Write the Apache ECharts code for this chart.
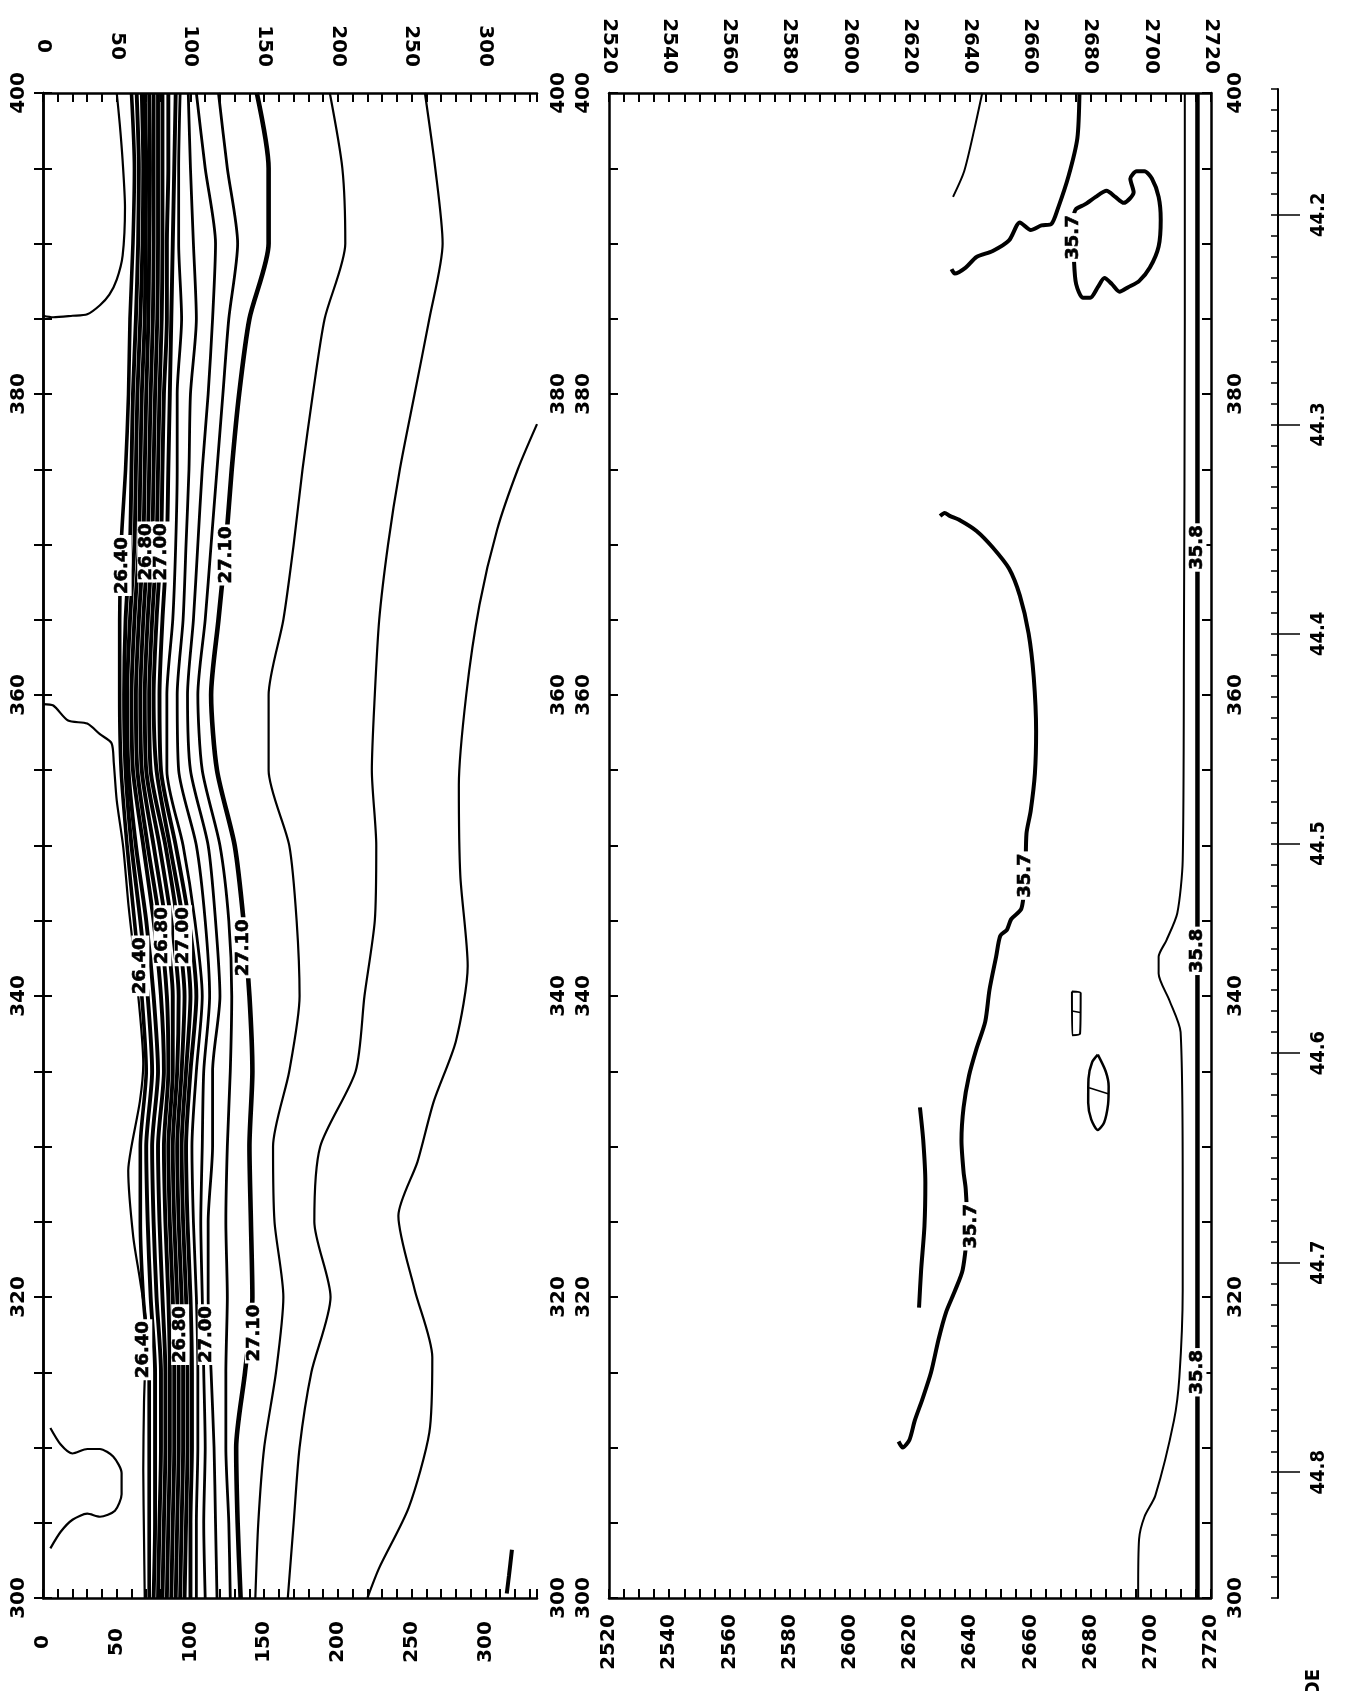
<!DOCTYPE html>
<html>
<head>
<meta charset="utf-8">
<title>Density and salinity sections</title>
<script src="https://cdn.jsdelivr.net/npm/echarts@6/dist/echarts.min.js"></script>
<style>
  html, body { margin: 0; padding: 0; background: #fff; }
  #chart { width: 1346px; height: 1691px; }
</style>
</head>
<body>
<div id="chart"></div>
<script>
// Along-track distance levels at which the isolines are sampled
const DIST = [400,395,390,385,380,375,370,365,360,355,350,345,340,335,330,325,320,315,310,305,300];

// Upper section: depth (m) of each isopycnal of the pycnocline band at every DIST level
const BAND = [
  [60,62,61,59,58,56,53,52,52,53,57,62,67,70,66,66,68,72,72,72,72],
  [63.5,65,64.5,63,61,60,59,56,55,56,60,66,71,74,70,71,73,76,76,76,75],
  [67,68,67.5,66,64,63,62,59,57,58,63,70,75,78,74,75,77,80,80,79,78],
  [69,70,69.5,69,67,66,65,62,60,61,68,75,80,82,78,79,81,83,83,82,81],
  [72,72.5,72,71.5,70,69,68,65,63,64,71,79,84,85,82,83,85,86,86,85,84],
  [75,75,75,74.5,73,72,71,68,66,67,75,83,88,88,85,86,88,89,89,88,87],
  [78,78,78,77.5,76,75,74,71,69,70,79,87,92,91,88,89,91,92,92,91,90],
  [81,81,81,80.5,79,78,77,74,72,73,83,91,96,94,91,92,94,95,95,94,93],
  [85,85,84,84,82,81,80,77,75,77,86,95,100,97,94,95,97,98,98,97,96],
  [90,89,88,87,86,85,84,81,79,80,90,99,104,100,97,98,100,101,101,100,100],
  [93,92,92,94,91,91,90,88,84,84,95,103,108,104,101,102,104,105,105,104,104],
  [98.5,100,102,104,100,99,97,95,91,92,104,110,113,109,108,107,108,109,110,109,110],
  [104,110,117,115,112,108,105,102,98,100,112,117,120,115,115,112,112,114,116,117,118],
  [119,125,132,126,122,118,114,110,105,108,120,126,128,127,125,124,125,124,124,126,127]
];
// 27.10 isopycnal (heavy line)
const ISO_2710 = [145,153,153,140,133,128,124,119,114,118,130,136,140,142,140,141,142,137,131,132,134];
// deeper isopycnals
const ISO_E = [194.5,203,205,191,183,176,170,163,153,153,167,172,174,167,156,157,163,158,150,146,144];
const ISO_F = [259,266,271,262,252,242,234,228,225,223,226,225,218,212,188,184,195,182,174,170,166];
// isolines that do not span the whole section: [depth, distance]
const ISO_H = [[335,378],[322,375],[308,371],[296,366],[287,360],[282,354],[283,348],[288,342],[280,337],[265,333],[254,329],[241,325.4],[252,320.5],[264,316],[262,311],[248,306],[228,302],[220,300]];
const OUTCROP_N = [[0,385.2],[7,385.1],[20,385.2],[30,385.3],[38.6,385.9],[45,386.6],[50,387.6],[54,389.2],[55.6,392.4],[54,395.5],[52,398],[50,400]];
const OUTCROP_S = [[0,359.4],[7,359.3],[17,358.3],[30,358.1],[38.6,357.4],[46.5,356.8],[48,355.5],[50,353],[54.4,349.9],[58,346],[63.5,341.1],[68,335.5],[65.7,333],[60,330],[57.8,328.4],[61.2,324],[66,321],[70,318],[68.5,313],[68,308.5],[68.5,304],[69,300]];
const LENS_W = [[5,311.3],[12,310.2],[20,309.6],[30,309.9],[38.6,309.9],[47.6,309.4],[53.3,308.3],[53.3,306.9],[48.8,305.8],[38.6,305.4],[30,305.6],[20,305.2],[12,304.4],[5,303.3]];
const TICK_MARK = [[314.5,300.3],[316,301.5],[318,303.2]];
// labels of the upper section: [depth, distance, value]
const LABELS_SIGMA = [
  [54,368.6,'26.40'],[70,369.5,'26.80'],[80.5,369.5,'27.00'],[124.5,369.3,'27.10'],
  [66,342,'26.40'],[81,344,'26.80'],[95,344,'27.00'],[136,343.2,'27.10'],
  [68,316.5,'26.40'],[93,317.5,'26.80'],[111,317.5,'27.00'],[143,317.6,'27.10']
];

// Lower section (salinity): [depth, distance]
const SAL_THIN_TOP = [[2644,400],[2641.5,397.7],[2638,394.8],[2634.3,393.1]];
const SAL_357_TOP = [[2676.3,400],[2675.6,397],[2672.7,394.5],[2669.1,392.3],[2667,391.3],[2663.7,391.2],[2660.1,390.9],[2656.5,391.4],[2652.9,390.2],[2647.5,389.5],[2642.1,389.1],[2638.5,388.4],[2634.9,388.0],[2633.8,388.3]];
const SAL_357_LOOP = [[2674.5,388.8],[2675.2,387.3],[2677.4,386.4],[2679.9,386.4],[2682.4,387.1],[2684.6,387.7],[2687.1,387.3],[2689.6,386.8],[2692.5,387.1],[2696.1,387.5],[2699.7,388.4],[2702.6,389.8],[2703.3,391.6],[2702.6,393.1],[2700.4,394.3],[2697.9,394.8],[2695.3,394.8],[2693.2,394.3],[2694.3,393.4],[2691.0,392.7],[2688.2,393.1],[2685.3,393.5],[2681.7,393.1],[2678.1,392.6],[2675.2,392.3],[2674.5,392.0]];
const SAL_357_MAIN = [[2630.0,371.9],[2631.5,372.1],[2633.2,371.9],[2636.7,371.6],[2642.1,370.9],[2647.5,369.8],[2652.9,368.4],[2656.5,366.6],[2659.4,364.1],[2661.1,361.2],[2661.9,357.6],[2661.5,354.8],[2660.1,352.3],[2658.7,350.8],[2658.3,348],[2657,345.8],[2653.6,345.1],[2652.2,344.4],[2650.0,344.0],[2648.6,342.6],[2646.4,340.4],[2645.0,338.3],[2642.1,336.5],[2639.6,334.7],[2637.8,332.6],[2637.1,330.4],[2637.8,328.3],[2638.5,327.2],[2639,324.7],[2637.5,321.8],[2634.9,320.4],[2632.0,319.0],[2629.5,317.2],[2627.0,315.0],[2624.1,313.2],[2621.6,311.8],[2619.8,310.5],[2617.6,310.0],[2616.2,310.4]];
const SAL_357_SHORT = [[2623.3,332.6],[2624.4,330.4],[2625.1,327.6],[2624.8,324.7],[2623.7,321.8],[2623.0,319.3]];
const SAL_BOX = [[2673.8,340.3],[2676.7,340.2],[2676.5,337.5],[2673.9,337.4],[2673.8,340.3]];
const SAL_BOX_MID = [[2673.8,339.0],[2676.6,338.9]];
const SAL_LENS = [[2682.4,336.1],[2685,335],[2686.0,334.0],[2685.8,332.8],[2684.5,331.6],[2682.4,331.1],[2680.2,331.8],[2679.2,332.9],[2679.3,334.5],[2680.5,335.6],[2682.4,336.1]];
const SAL_LENS_MID = [[2679.5,333.9],[2685.8,333.5]];
const SAL_EDGE_THIN = [[2711.3,400],[2711.3,384.8],[2711.0,363.3],[2710.6,349.0],[2708.8,345.5],[2705.2,343.7],[2702.6,342.6],[2702.6,341.5],[2706.2,339.7],[2709.9,337.6],[2710.6,327.6],[2710.6,320.4],[2709.5,314.7],[2707.7,311.8],[2701.5,306.8],[2697.9,305.4],[2696.1,303.9],[2695.8,300.4],[2695.8,300]];
const SAL_358 = [[2715.5,400],[2715.5,300]];
const LABELS_SAL = [
  [2674.2,390.4,'35.7'],[2658.3,348,'35.7'],[2640.3,324.7,'35.7'],
  [2715.5,369.8,'35.8'],[2715.5,343,'35.8'],[2715.5,315,'35.8']
];

// Axis tick labels
const DIST_TICKS = [300,320,340,360,380,400];
const DEPTH_TICKS_UPPER = [0,50,100,150,200,250,300];
const DEPTH_TICKS_LOWER = [2520,2540,2560,2580,2600,2620,2640,2660,2680,2700,2720];
const LAT_TICKS = [44.2,44.3,44.4,44.5,44.6,44.7,44.8];

const pairs = depths => depths.map((d, i) => [d, DIST[i]]);

const tickFont = { fontFamily: 'DejaVu Sans', fontWeight: 'bold', fontSize: 20, color: '#000' };
const frameLine = { show: true, lineStyle: { color: '#000', width: 2.5 } };
const innerTick = { show: true, inside: true, length: 9, lineStyle: { color: '#000', width: 2 } };
const plain = v => String(v);

function depthAxis(grid, position, min, max, interval, ticks, margin) {
  return {
    type: 'value', gridIndex: grid, position, min, max, interval,
    axisLine: frameLine, axisTick: innerTick, splitLine: { show: false },
    axisLabel: Object.assign({ customValues: ticks, rotate: 90, margin, formatter: plain,
      align: 'center', verticalAlign: 'middle' }, tickFont)
  };
}
function distAxis(grid, position, margin) {
  return {
    type: 'value', gridIndex: grid, position, min: 300, max: 400, interval: 5,
    axisLine: frameLine, axisTick: innerTick, splitLine: { show: false },
    axisLabel: Object.assign({ customValues: DIST_TICKS, rotate: 90, margin, formatter: plain,
      align: 'center', verticalAlign: position === 'left' ? 'bottom' : 'top' }, tickFont)
  };
}

function iso(data, width, xi, yi) {
  return {
    type: 'line', data, xAxisIndex: xi, yAxisIndex: yi, showSymbol: false, symbol: 'none',
    smooth: 0.25, lineStyle: { color: '#000', width }, z: 2, silent: true
  };
}
function labelSeries(data, xi, yi, size) {
  return {
    type: 'scatter', data, xAxisIndex: xi, yAxisIndex: yi, symbol: 'rect', symbolSize: 2,
    itemStyle: { color: 'rgba(0,0,0,0)' }, z: 5, silent: true,
    label: {
      show: true, position: 'inside', rotate: 90, formatter: p => p.value[2],
      fontFamily: 'DejaVu Sans', fontWeight: 'bold', fontSize: size, color: '#000',
      opacity: 1, textBorderColor: '#000', textBorderWidth: 0.6,
      backgroundColor: '#fff', padding: [0, 2]
    },
    labelLayout: { hideOverlap: false }
  };
}

const series = [];
BAND.forEach((line, i) => {
  const w = i === 0 ? 3.6 : (i <= 9 ? 3.9 : 2.8);
  series.push(iso(pairs(line), w, 0, 0));
});
series.push(iso(pairs(ISO_2710), 4.6, 0, 0));
series.push(iso(pairs(ISO_E), 2.2, 0, 0));
series.push(iso(pairs(ISO_F), 2.2, 0, 0));
series.push(iso(ISO_H, 2.2, 0, 0));
series.push(iso(OUTCROP_N, 2.2, 0, 0));
series.push(iso(OUTCROP_S, 2.2, 0, 0));
series.push(iso(LENS_W, 2.2, 0, 0));
series.push(iso(TICK_MARK, 4, 0, 0));
series.push(labelSeries(LABELS_SIGMA, 0, 0, 18));

series.push(iso(SAL_THIN_TOP, 2, 2, 2));
series.push(iso(SAL_357_TOP, 4, 2, 2));
series.push(iso(SAL_357_LOOP, 4, 2, 2));
series.push(iso(SAL_357_MAIN, 4, 2, 2));
series.push(iso(SAL_357_SHORT, 4, 2, 2));
series.push(iso(SAL_BOX, 2, 2, 2));
series.push(iso(SAL_BOX_MID, 1.5, 2, 2));
series.push(iso(SAL_LENS, 2.5, 2, 2));
series.push(iso(SAL_LENS_MID, 1.5, 2, 2));
series.push(iso(SAL_EDGE_THIN, 2, 2, 2));
series.push(iso(SAL_358, 4.5, 2, 2));
series.push(labelSeries(LABELS_SAL, 2, 2, 18));
// keeps the latitude scale's grid populated
series.push({ type: 'scatter', data: [], xAxisIndex: 4, yAxisIndex: 4 });

const latFont = { fontFamily: 'DejaVu Sans Condensed', fontWeight: 'bold', fontSize: 20, color: '#000' };

const option = {
  animation: false,
  backgroundColor: '#fff',
  grid: [
    { left: 43, top: 93, width: 494, height: 1505 },
    { left: 609, top: 93, width: 602, height: 1505 },
    { left: 1278, top: 89, width: 1, height: 1509 }
  ],
  xAxis: [
    depthAxis(0, 'bottom', 0, 335, 10, DEPTH_TICKS_UPPER, 44),
    depthAxis(0, 'top', 0, 335, 10, DEPTH_TICKS_UPPER, 47),
    depthAxis(1, 'bottom', 2520, 2720, 5, DEPTH_TICKS_LOWER, 44),
    depthAxis(1, 'top', 2520, 2720, 5, DEPTH_TICKS_LOWER, 47),
    { type: 'value', gridIndex: 2, min: 0, max: 1, show: false }
  ],
  yAxis: [
    distAxis(0, 'left', 14),
    distAxis(0, 'right', 12),
    distAxis(1, 'left', 15),
    distAxis(1, 'right', 15),
    {
      type: 'value', gridIndex: 2, position: 'left', inverse: true,
      min: 44.14, max: 44.86, interval: 0.01,
      axisLine: { show: true, lineStyle: { color: '#000', width: 2 } },
      axisTick: { show: true, inside: false, length: 7, lineStyle: { color: '#000', width: 1.5 } },
      axisLabel: { show: false }, splitLine: { show: false }
    },
    {
      type: 'value', gridIndex: 2, position: 'left', inverse: true,
      min: 44.14, max: 44.86,
      axisLine: { show: false },
      axisTick: { show: true, inside: true, length: 22, customValues: LAT_TICKS,
        lineStyle: { color: '#000', width: 1.5 } },
      axisLabel: Object.assign({ show: true, inside: true, customValues: LAT_TICKS, margin: 31,
        rotate: 90, align: 'center', verticalAlign: 'top', formatter: v => v.toFixed(1) }, latFont),
      splitLine: { show: false }
    }
  ],
  graphic: [
    {
      type: 'text', x: 1314, y: 1669, rotation: Math.PI / 2,
      style: { text: 'LATITUDE', align: 'right', verticalAlign: 'middle', fill: '#000',
        fontFamily: 'DejaVu Sans Condensed', fontWeight: 'bold', fontSize: 20 }
    }
  ],
  series
};

const chart = echarts.init(document.getElementById('chart'), null, { renderer: 'canvas' });
chart.setOption(option);
</script>
</body>
</html>
